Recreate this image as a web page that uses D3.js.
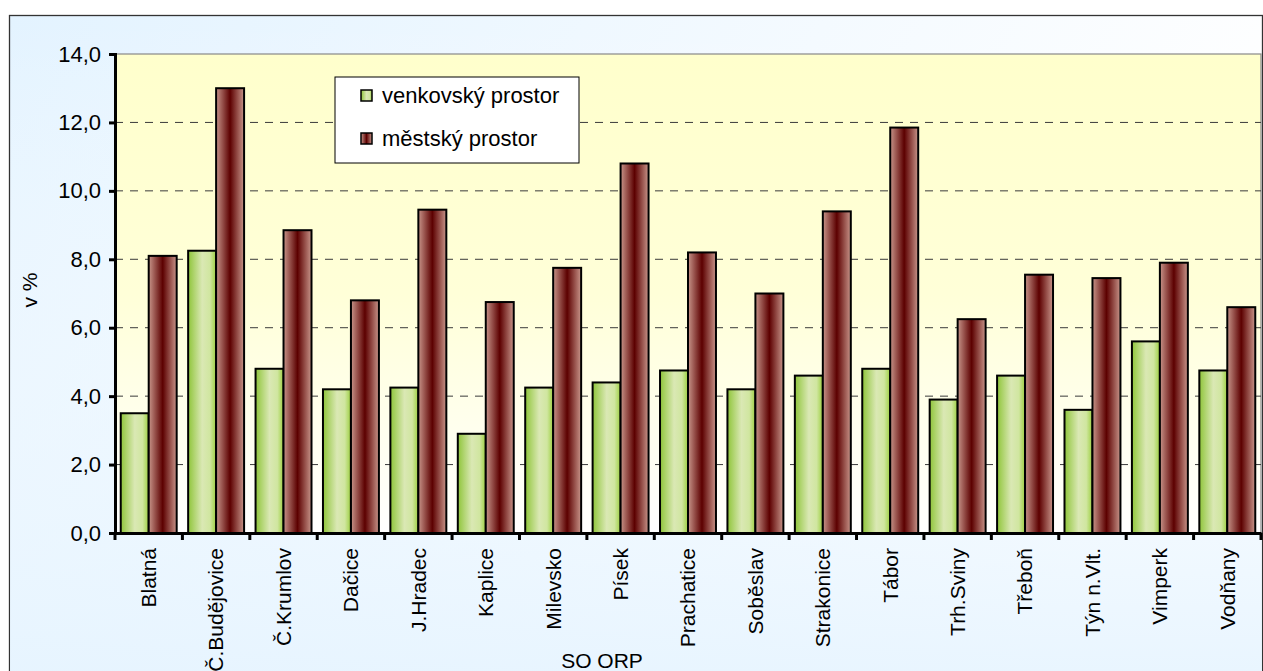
<!DOCTYPE html>
<html>
<head>
<meta charset="utf-8">
<script src="https://cdn.jsdelivr.net/npm/d3@7"></script>
<style>
body { margin: 0; background: #fff; overflow: hidden; }
text { font-family: "Liberation Sans", Arial, sans-serif; fill: #000; }
</style>
</head>
<body>
<script>
var categories = ['Blatná', 'Č.Budějovice', 'Č.Krumlov', 'Dačice', 'J.Hradec', 'Kaplice', 'Milevsko',
	'Písek', 'Prachatice', 'Soběslav', 'Strakonice', 'Tábor', 'Trh.Sviny', 'Třeboň', 'Týn n.Vlt.',
	'Vimperk', 'Vodňany'];
var venkov = [3.5, 8.25, 4.8, 4.2, 4.25, 2.9, 4.25, 4.4, 4.75, 4.2, 4.6, 4.8, 3.9, 4.6, 3.6, 5.6, 4.75];
var mesto = [8.1, 13.0, 8.85, 6.8, 9.45, 6.75, 7.75, 10.8, 8.2, 7.0, 9.4, 11.85, 6.25, 7.55, 7.45, 7.9, 6.6];
var seriesNames = ['venkovský prostor', 'městský prostor'];
var yTicks = [0, 2, 4, 6, 8, 10, 12, 14];

var W = 1263, H = 671;
var pLeft = 115, pRight = 1261, pTop = 54, pBottom = 533;
var fs = '21px';

var svg = d3.select('body').append('svg')
	.attr('width', W).attr('height', H);

var defs = svg.append('defs');

// outer background - light blue fading to white
var bg = defs.append('linearGradient').attr('id', 'bg')
	.attr('x1', '0%').attr('y1', '0%').attr('x2', '100%').attr('y2', '30%');
bg.append('stop').attr('offset', '0%').attr('stop-color', '#e3f3ff');
bg.append('stop').attr('offset', '60%').attr('stop-color', '#f4faff');
bg.append('stop').attr('offset', '100%').attr('stop-color', '#ffffff');

var bg2 = defs.append('linearGradient').attr('id', 'bg2')
	.attr('x1', '0%').attr('y1', '0%').attr('x2', '0%').attr('y2', '100%');
bg2.append('stop').attr('offset', '0%').attr('stop-color', '#ffffff').attr('stop-opacity', 0);
bg2.append('stop').attr('offset', '100%').attr('stop-color', '#e6f4ff').attr('stop-opacity', 0.9);

// plot area - yellow to white
var pg = defs.append('linearGradient').attr('id', 'plotbg')
	.attr('x1', '0%').attr('y1', '0%').attr('x2', '0%').attr('y2', '100%');
pg.append('stop').attr('offset', '0%').attr('stop-color', '#ffffcc');
pg.append('stop').attr('offset', '50%').attr('stop-color', '#ffffd8');
pg.append('stop').attr('offset', '100%').attr('stop-color', '#ffffff');

var gg = defs.append('linearGradient').attr('id', 'green')
	.attr('x1', '0%').attr('x2', '100%').attr('y1', '0%').attr('y2', '0%');
gg.append('stop').attr('offset', '0%').attr('stop-color', '#8fc53a');
gg.append('stop').attr('offset', '50%').attr('stop-color', '#dae8b4');
gg.append('stop').attr('offset', '78%').attr('stop-color', '#d0e6a0');
gg.append('stop').attr('offset', '100%').attr('stop-color', '#9ccf40');

var rg = defs.append('linearGradient').attr('id', 'red')
	.attr('x1', '0%').attr('x2', '100%').attr('y1', '0%').attr('y2', '0%');
rg.append('stop').attr('offset', '0%').attr('stop-color', '#c8958a');
rg.append('stop').attr('offset', '50%').attr('stop-color', '#5c0000');
rg.append('stop').attr('offset', '100%').attr('stop-color', '#c8958a');

// chart frame
svg.append('rect').attr('x', 9.5).attr('y', 15.5).attr('width', 1253).attr('height', 680)
	.attr('fill', 'url(#bg)').attr('stroke', '#333').attr('stroke-width', 1.3);
svg.append('rect').attr('x', 10).attr('y', 16).attr('width', 1252).attr('height', 660)
	.attr('fill', 'url(#bg2)');

var x = d3.scaleBand().domain(categories).range([pLeft, pRight]).paddingInner(0).paddingOuter(0);
var inner = d3.scaleBand().domain([0, 1]).range([0, x.bandwidth()]).paddingOuter(0.205).paddingInner(0);
var y = d3.scaleLinear().domain([0, 14]).range([pBottom, pTop]);

svg.append('rect').attr('x', pLeft).attr('y', pTop).attr('width', pRight - pLeft).attr('height', pBottom - pTop)
	.attr('fill', 'url(#plotbg)').attr('stroke', '#888').attr('stroke-width', 1.2);

// gridlines
svg.append('g').selectAll('line').data(yTicks.slice(1, -1)).enter().append('line')
	.attr('x1', pLeft).attr('x2', pRight)
	.attr('y1', function(d) { return y(d); }).attr('y2', function(d) { return y(d); })
	.attr('stroke', '#3a3a3a').attr('stroke-width', 1).attr('stroke-dasharray', '8,7');

// bars
var rows = categories.map(function(c, i) { return {cat: c, vals: [venkov[i], mesto[i]]}; });
var groups = svg.append('g').selectAll('g').data(rows).enter().append('g')
	.attr('transform', function(d) { return 'translate(' + x(d.cat) + ',0)'; });
groups.selectAll('rect').data(function(d) { return d.vals; }).enter().append('rect')
	.attr('x', function(d, i) { return inner(i); })
	.attr('width', inner.bandwidth())
	.attr('y', function(d) { return y(d); })
	.attr('height', function(d) { return pBottom - y(d); })
	.attr('fill', function(d, i) { return i ? 'url(#red)' : 'url(#green)'; })
	.attr('stroke', '#000').attr('stroke-width', 2);

// y axis
var yAxis = svg.append('g').attr('transform', 'translate(' + pLeft + ',0)')
	.call(d3.axisLeft(y).tickValues(yTicks).tickSize(6).tickPadding(8)
		.tickFormat(function(d) { return d3.format('.1f')(d).replace('.', ','); }));
yAxis.select('.domain').attr('stroke', '#000').attr('stroke-width', 3);
yAxis.selectAll('.tick line').attr('stroke', '#000').attr('stroke-width', 3);
yAxis.selectAll('.tick text').style('font-size', '22px').style('font-family', '"Liberation Sans", Arial, sans-serif');

// x axis
var xAxis = svg.append('g').attr('transform', 'translate(0,' + pBottom + ')')
	.call(d3.axisBottom(x).tickSize(0).tickPadding(0));
xAxis.select('.domain').attr('stroke', '#000').attr('stroke-width', 3);
xAxis.selectAll('.tick text')
	.style('font-size', fs).style('font-family', '"Liberation Sans", Arial, sans-serif')
	.attr('text-anchor', 'end').attr('transform', 'translate(0,15) rotate(-90)')
	.attr('x', 0).attr('y', 0).attr('dy', '0.35em').attr('dx', 0);

// x tick marks at category boundaries
svg.append('g').selectAll('line').data(categories.concat(['end'])).enter().append('line')
	.attr('x1', function(d, i) { return pLeft + i * x.step(); })
	.attr('x2', function(d, i) { return pLeft + i * x.step(); })
	.attr('y1', pBottom).attr('y2', pBottom + 7)
	.attr('stroke', '#000').attr('stroke-width', 3);

// axis titles
svg.append('text').attr('transform', 'translate(37,290) rotate(-90)')
	.attr('text-anchor', 'middle').style('font-size', fs).text('v %');
svg.append('text').attr('x', 602).attr('y', 668)
	.attr('text-anchor', 'middle').style('font-size', fs).text('SO ORP');

// legend
var lg = svg.append('g').attr('transform', 'translate(335,77)');
lg.append('rect').attr('width', 244).attr('height', 86)
	.attr('fill', '#fff').attr('stroke', '#000').attr('stroke-width', 1);
var items = lg.selectAll('g').data(seriesNames).enter().append('g')
	.attr('transform', function(d, i) { return 'translate(26,' + (13 + i * 43) + ')'; });
items.append('rect').attr('width', 11).attr('height', 11)
	.attr('fill', function(d, i) { return i ? 'url(#red)' : 'url(#green)'; })
	.attr('stroke', '#000').attr('stroke-width', 1.5);
items.append('text').attr('x', 21).attr('y', 5).attr('dy', '0.35em')
	.style('font-size', '22px').text(function(d) { return d; });
</script>
</body>
</html>
